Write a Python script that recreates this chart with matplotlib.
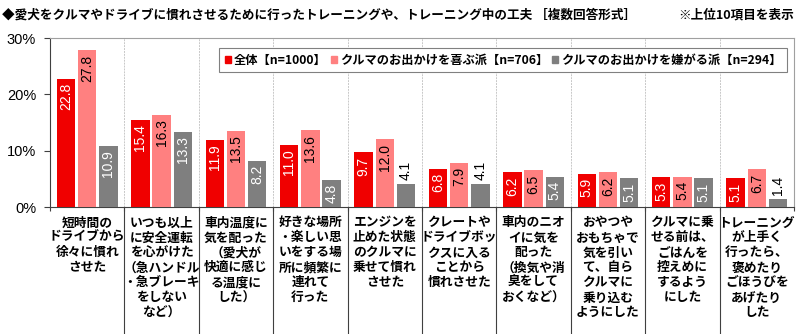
import numpy as np
import matplotlib.pyplot as plt
from matplotlib.patches import Patch
from matplotlib.transforms import blended_transform_factory

plt.rcParams['font.family'] = ['Noto Sans CJK JP', 'DejaVu Sans']

# données
categories = [
    "短時間の\nドライブから\n徐々に慣れ\nさせた",
    "いつも以上\nに安全運転\nを心がけた\n（急ハンドル\n・急ブレーキ\nをしない\nなど）",
    "車内温度に\n気を配った\n（愛犬が\n快適に感じ\nる温度に\nした）",
    "好きな場所\n・楽しい思\nいをする場\n所に頻繁に\n連れて\n行った",
    "エンジンを\n止めた状態\nのクルマに\n乗せて慣れ\nさせた",
    "クレートや\nドライブボッ\nクスに入る\nことから\n慣れさせた",
    "車内のニオ\nイに気を\n配った\n（換気や消\n臭をして\nおくなど）",
    "おやつや\nおもちゃで\n気を引い\nて、自ら\nクルマに\n乗り込む\nようにした",
    "クルマに乗\nせる前は、\nごはんを\n控えめに\nするよう\nにした",
    "トレーニング\nが上手く\n行ったら、\n褒めたり\nごほうびを\nあげたり\nした",
]
series_names = ["全体【n=1000】", "クルマのお出かけを喜ぶ派【n=706】", "クルマのお出かけを嫌がる派【n=294】"]
total = [22.8, 15.4, 11.9, 11.0, 9.7, 6.8, 6.2, 5.9, 5.3, 5.1]
likes = [27.8, 16.3, 13.5, 13.6, 12.0, 7.9, 6.5, 6.2, 5.4, 6.7]
dislikes = [10.9, 13.3, 8.2, 4.8, 4.1, 4.1, 5.4, 5.1, 5.1, 1.4]
yticks = [0, 10, 20, 30]

colors = ['#F00000', '#FF8080', '#7F7F7F']
label_colors = ['white', 'black', 'white']

fig = plt.figure(figsize=(8, 3.34), dpi=100)
ax = fig.add_axes([0.0625, 0.38, 0.93, 0.506])

x = np.arange(len(categories))
w = 0.245
step = 0.285
for i, vals in enumerate([total, likes, dislikes]):
    pos = x + (i - 1) * step
    ax.bar(pos, vals, width=w, color=colors[i], zorder=3)
    for p, v in zip(pos, vals):
        if v >= 4.5:
            ax.annotate(f"{v:.1f}", (p, v), xytext=(0, -3), textcoords='offset points',
                        rotation=90, ha='center', va='top', fontsize=10,
                        family='Liberation Sans', color=label_colors[i], zorder=4)
        else:
            ax.annotate(f"{v:.1f}", (p, v), xytext=(0, 3), textcoords='offset points',
                        rotation=90, ha='center', va='bottom', fontsize=10,
                        family='Liberation Sans', color='black', zorder=4)

ax.set_xlim(-0.5, len(categories) - 0.5)
ax.set_ylim(0, 30)
ax.set_yticks(yticks)
ax.set_yticklabels([f"{t}%" for t in yticks], family='Liberation Sans', fontsize=10.5)
ax.set_xticks(np.arange(len(categories) + 1) - 0.5)
ax.set_xticklabels([])
ax.tick_params(axis='x', length=3, color='#404040')
ax.tick_params(axis='y', length=4, color='#404040', pad=6)

# lignes verticales entre catégories
for b in np.arange(1, len(categories)) - 0.5:
    ax.axvline(b, color='#C8C8C8', lw=0.7, ls=(0, (2, 1)), zorder=1)

for s in ['top', 'right']:
    ax.spines[s].set_color('#A0A0A0')
for s in ['left', 'bottom']:
    ax.spines[s].set_color('#404040')

# libellés des catégories + séparateurs
trans = blended_transform_factory(ax.transData, ax.transAxes)
for i, lab in enumerate(categories):
    ax.text(i, -0.055, lab, transform=trans, ha='center', va='top', fontsize=9.2,
            fontweight='bold', linespacing=1.2)
for b in np.arange(1, len(categories)) - 0.5:
    ax.plot([b, b], [0, -0.75], transform=trans, color='#404040', lw=0.8, clip_on=False)

handles = [Patch(color=c) for c in colors]
leg = ax.legend(handles, series_names, loc='upper right', bbox_to_anchor=(0.9985, 0.975), ncol=3,
                prop={'weight': 'bold', 'size': 8.8, 'family': ['Noto Sans CJK JP', 'DejaVu Sans']},
                handlelength=0.5, handleheight=0.5, handletextpad=0.25, columnspacing=0.3,
                borderpad=0.45, fancybox=False, framealpha=1, edgecolor='#808080')
leg.get_frame().set_linewidth(0.8)

fig.text(0.002, 0.955, "◆愛犬をクルマやドライブに慣れさせるために行ったトレーニングや、トレーニング中の工夫 ［複数回答形式］",
         fontsize=9.1, fontweight='bold', va='center', ha='left')
fig.text(0.993, 0.955, "※上位10項目を表示", fontsize=9.1, fontweight='bold', va='center', ha='right')

fig.savefig('out.png', dpi=100)
